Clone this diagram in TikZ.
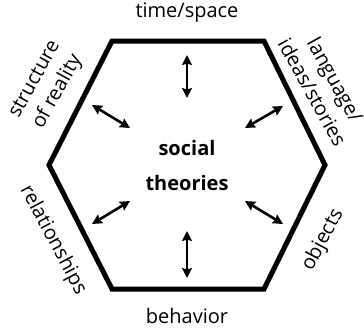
\documentclass[tikz,border=0pt]{standalone}
\usepackage{fontspec}
\setmainfont{Open Sans}
\usetikzlibrary{arrows.meta}

\tikzset{
  sidetext/.style={align=center, inner sep=0pt, font=\fontsize{20}{26}\selectfont},
  link/.style={line width=2.6pt, {Stealth[length=10pt,width=10pt,inset=1.5pt]}-{Stealth[length=10pt,width=10pt,inset=1.5pt]}}
}

\begin{document}
\begin{tikzpicture}[x=1pt,y=-1pt]
  \useasboundingbox (0,0) rectangle (364,332);

  % the hexagon
  \coordinate (tl) at (112,41);
  \coordinate (tr) at (264,41);
  \coordinate (r)  at (325,165);
  \coordinate (br) at (264,289);
  \coordinate (bl) at (112,289);
  \coordinate (l)  at (49,165);
  \draw[line width=5pt, line join=miter] (tl) -- (tr) -- (r) -- (br) -- (bl) -- (l) -- cycle;

  % centre
  \node[sidetext, font=\fontsize{20}{35}\selectfont\bfseries] (theories) at (187,165) {social\\theories};

  % the six sides
  \node[sidetext] (timespace) at (187,13) {time/space};
  \node[sidetext] (behavior) at (187,316) {behavior};
  \node[sidetext, rotate=61] (reality) at (47,86) {structure\\of reality};
  \node[sidetext, rotate=-61] (language) at (324,86) {language/\\ideas/stories};
  \node[sidetext, rotate=-62] (relationships) at (53,240) {relationships};
  \node[sidetext, rotate=62] (objects) at (323,240) {objects};

  % arrows between centre and sides
  \coordinate (a1) at (187,55);  \coordinate (b1) at (187,98);
  \coordinate (a2) at (187,231); \coordinate (b2) at (187,278);
  \coordinate (a3) at (92,105);  \coordinate (b3) at (130,128);
  \coordinate (a4) at (245,128); \coordinate (b4) at (283,106);
  \coordinate (a5) at (92,224);  \coordinate (b5) at (130,201);
  \coordinate (a6) at (245,201); \coordinate (b6) at (283,224);
  \draw[link] (a1) -- (b1);
  \draw[link] (a2) -- (b2);
  \draw[link] (a3) -- (b3);
  \draw[link] (a4) -- (b4);
  \draw[link] (a5) -- (b5);
  \draw[link] (a6) -- (b6);
\end{tikzpicture}
\end{document}
